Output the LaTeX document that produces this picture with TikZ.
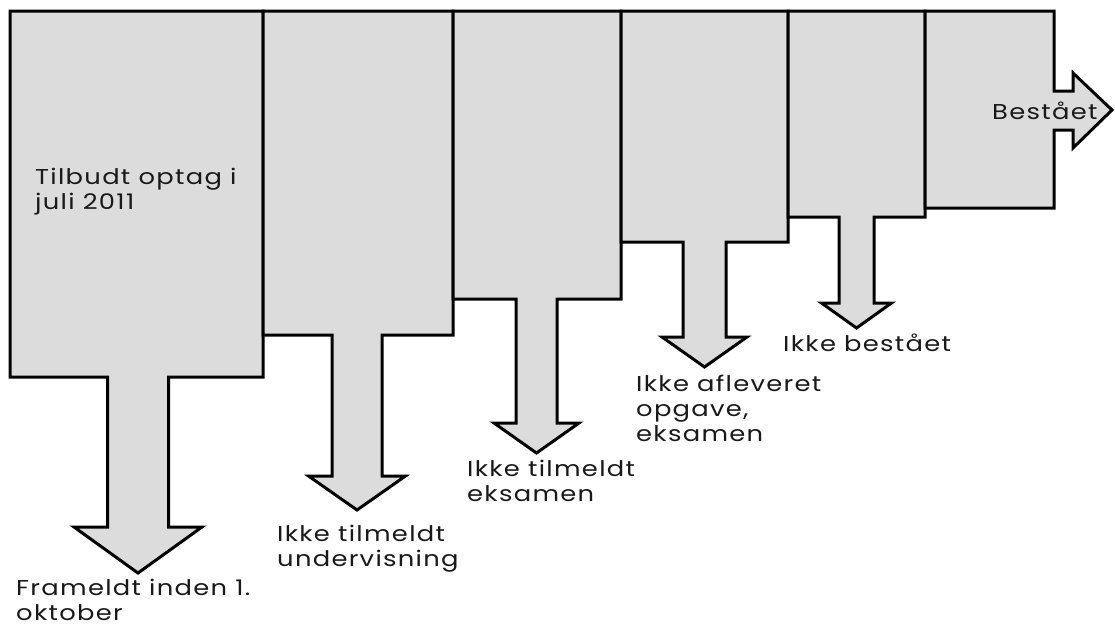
\documentclass[tikz,border=0pt]{standalone}
\usepackage{fontspec}
\setmainfont{Poppins}[FakeStretch=1.2, LetterSpace=6]
\usetikzlibrary{calc}
\definecolor{stagefill}{RGB}{220,220,220}
\tikzset{stage/.style={draw=black, fill=stagefill, line width=3pt, line join=miter},
	outcome/.style={font=\fontsize{21.5}{25}\selectfont, align=left, inner sep=0pt, anchor=north west, text=black!90}}
% box from x=#1 to x=#2 down to y=#3, arrow centred at #4 (shaft #5, head #6, head at #7, tip at #8)
\def\stagearrow(#1:#2:#3)(#4:#5:#6:#7:#8){\draw[stage] (#1, 11) -- (#2, 11) -- (#2, #3) -- ({#4+#5}, #3) -- ({#4+#5}, #7) -- ({#4+#6}, #7) -- (#4, #8) -- ({#4-#6}, #7) -- ({#4-#5}, #7) -- ({#4-#5}, #3) -- (#1, #3) -- cycle;}

\begin{document}
\begin{tikzpicture}[x=1pt, y=-1pt]
		%%%%% START %%%%%
		\useasboundingbox (0, 0) rectangle (1115, 624);
		
		\stagearrow(10:263:377)(138:30.5:64:527:573)
		\stagearrow(263:453:335)(357:25:48.5:476:510)
		\stagearrow(453:621:299)(536.5:20.5:42.5:423:453)
		\stagearrow(621:788:242)(704.5:21.5:42.5:337:367)
		\stagearrow(788:925:217)(856.5:17.5:35:303:328)
		
		\draw[stage] (925, 11) -- (1054, 11) -- (1054, 91) -- (1073, 91) -- (1073, 73) -- (1112, 110) -- (1073, 148) -- (1073, 130) -- (1054, 130) -- (1054, 208) -- (925, 208) -- cycle;
		
		\node[outcome] (tilbudt) at (35, 168) {Tilbudt optag i\\juli 2011};
		\node[outcome] (frameldt) at (16, 579) {Frameldt inden 1.\\oktober};
		\node[outcome] (undervisning) at (277, 525) {Ikke tilmeldt\\undervisning};
		\node[outcome] (eksamen) at (467, 460) {Ikke tilmeldt\\eksamen};
		\node[outcome] (opgave) at (636, 375) {Ikke afleveret\\opgave,\\eksamen};
		\node[outcome] (ikkebestaaet) at (783, 334) {Ikke bestået};
		\node[outcome] (bestaaet) at (992, 102) {Bestået};
		
		%%%%% END %%%%%
\end{tikzpicture}
\end{document}
